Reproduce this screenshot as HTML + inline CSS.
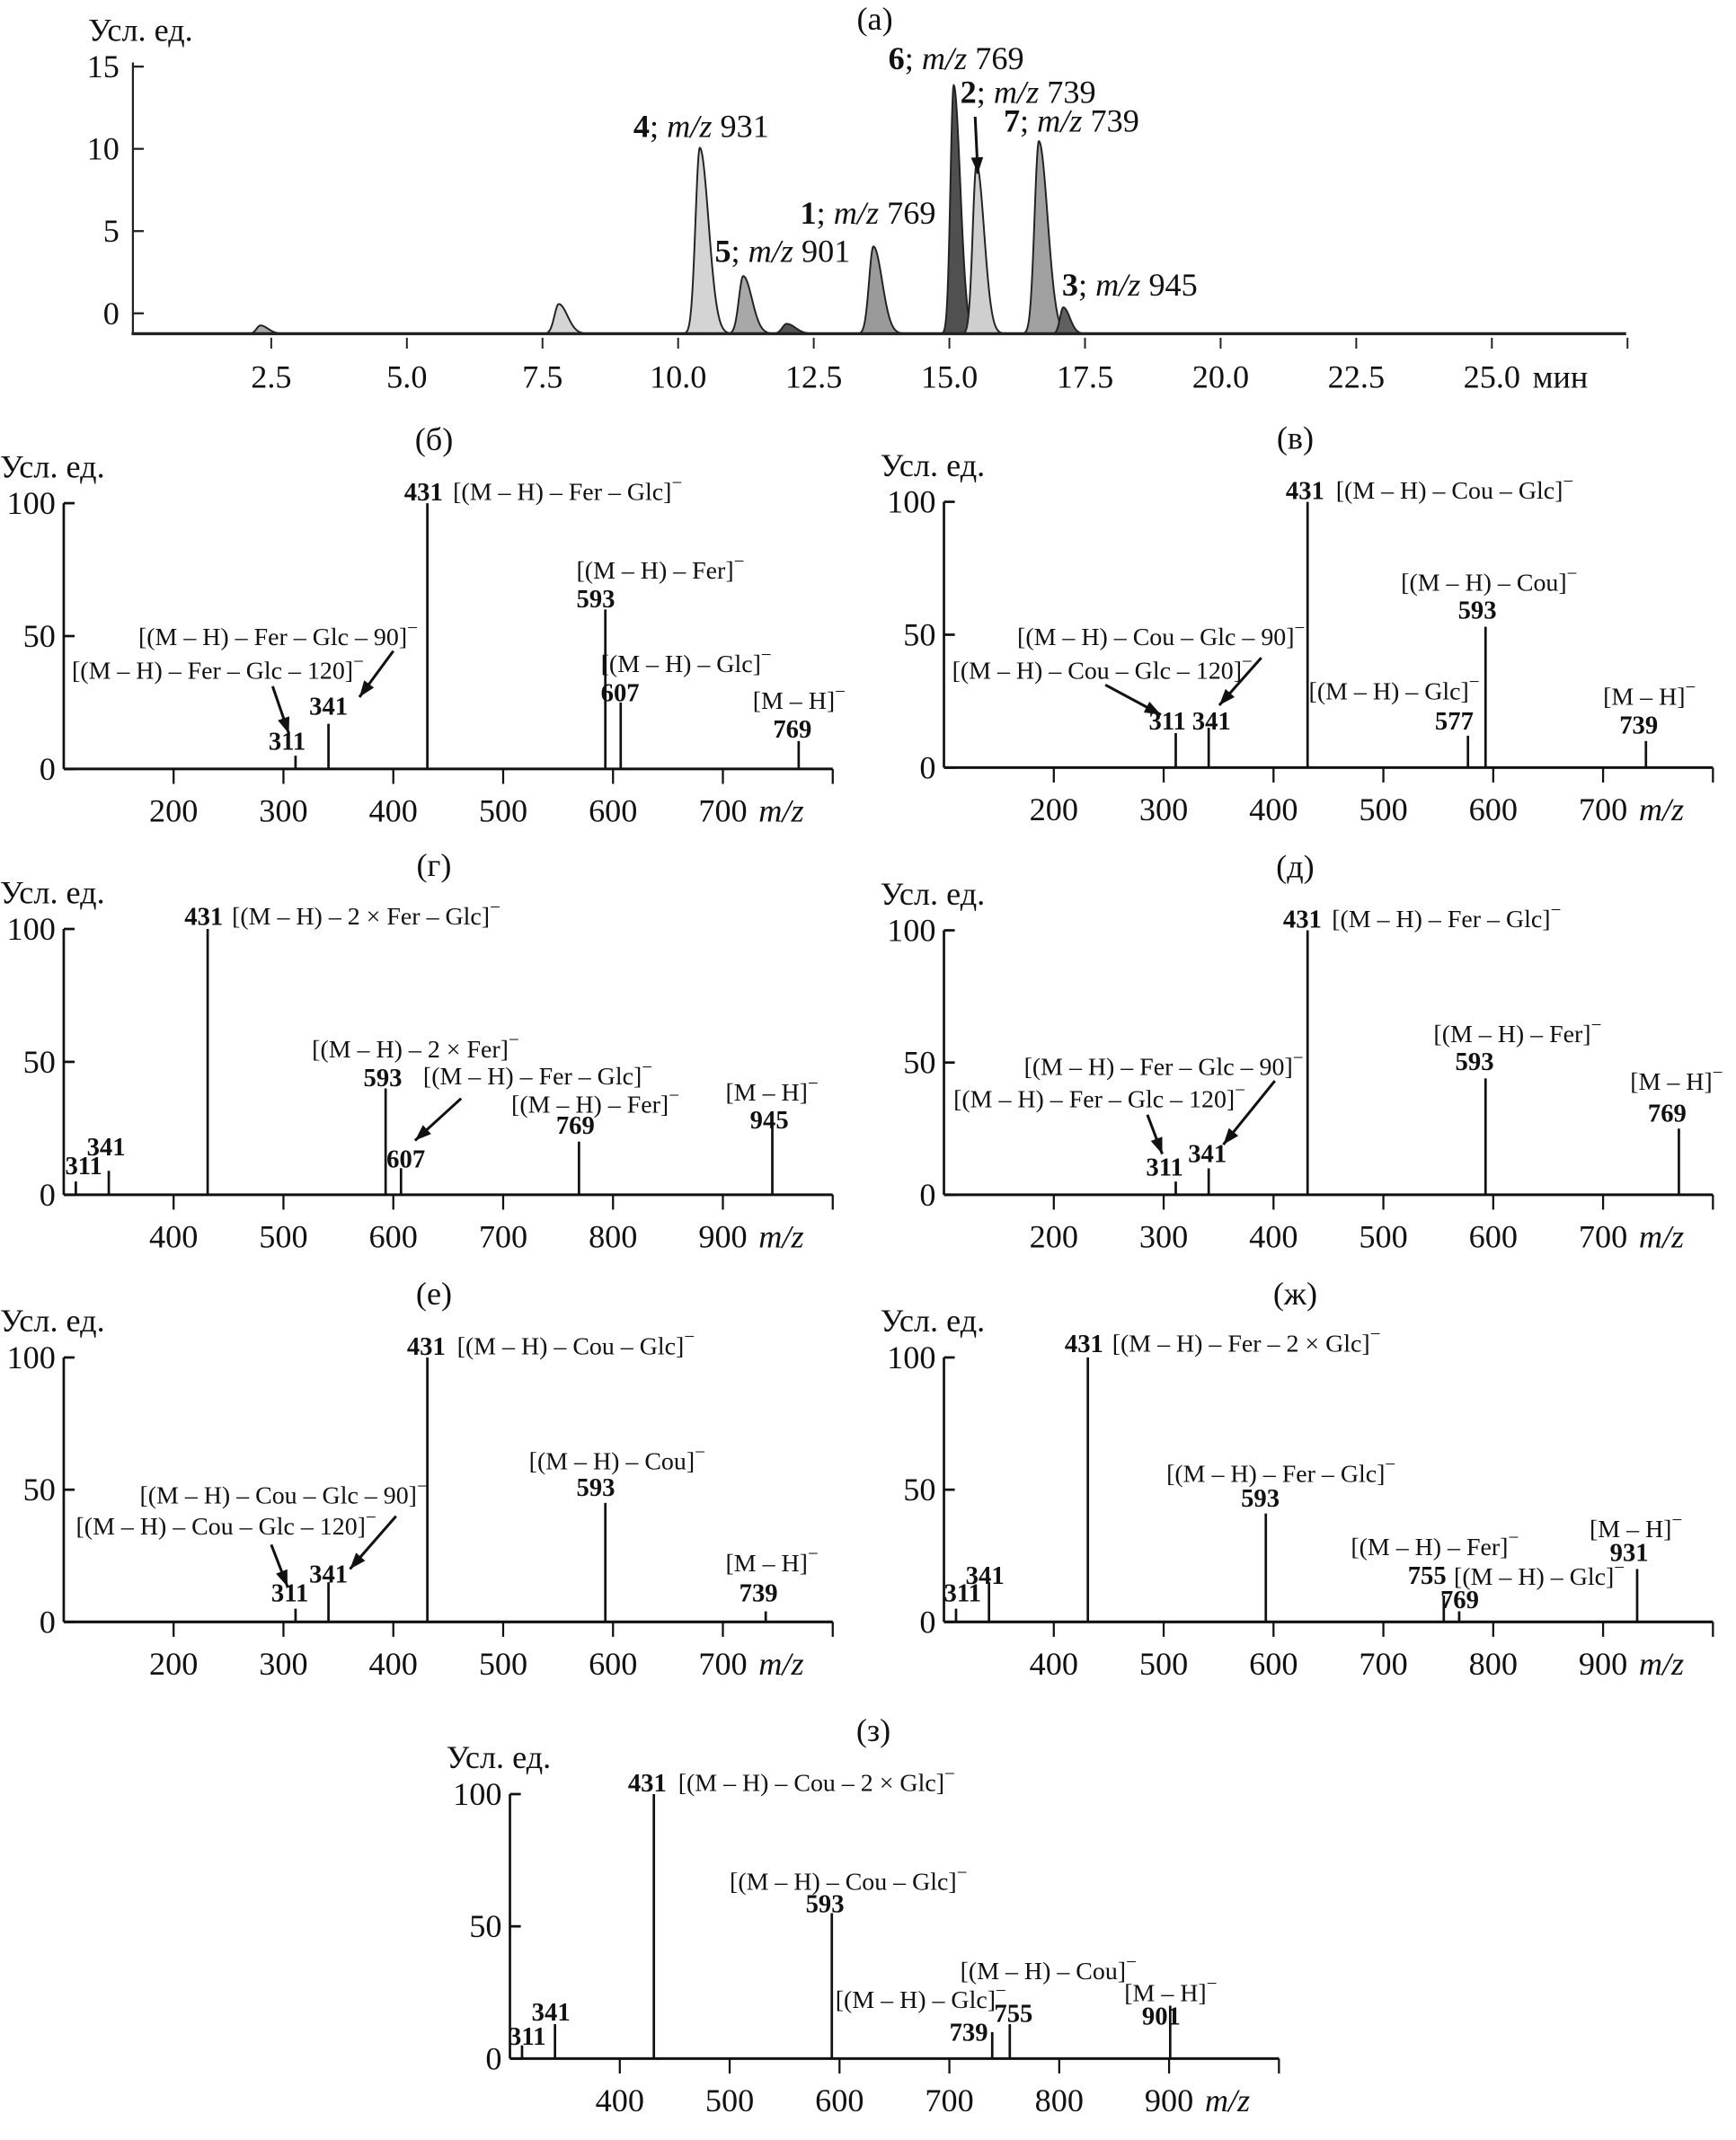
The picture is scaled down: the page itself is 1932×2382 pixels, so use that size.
<!DOCTYPE html>
<html><head><meta charset="utf-8">
<style>
html,body{margin:0;padding:0;background:#fff;}
svg{display:block;font-family:"Liberation Serif","DejaVu Serif",serif;}
</style></head>
<body>
<svg id="fig" width="1932" height="2382" viewBox="0 0 1280 1578" xmlns="http://www.w3.org/2000/svg">
<g id="root"></g>
</svg>
<script>
// ---------- Chromatogram (a) data ----------
const chromTimes   = [2.3, 7.8, 10.4, 11.2, 12.0, 13.6, 15.08, 15.5, 16.65, 17.1];
const chromHeights = [0.5, 1.8, 11.3, 3.5, 0.6, 5.3, 15.1, 10.3, 11.7, 1.6];
const chromWidths  = [0.07, 0.08, 0.08, 0.08, 0.08, 0.08, 0.06, 0.07, 0.08, 0.06];
const chromShades  = ["#a8a8a8","#d4d4d4","#d4d4d4","#a8a8a8","#555","#9a9a9a","#505050","#cfcfcf","#a0a0a0","#606060"];
const chromYTicks  = [15, 10, 5, 0];
const chromXTicks  = [2.5, 5.0, 7.5, 10.0, 12.5, 15.0, 17.5, 20.0, 22.5, 25.0];

// ---------- Spectra data ----------
const mzB = [311, 341, 431, 593, 607, 769];   const intB = [5, 17, 100, 60, 25, 10.5];
const mzV = [311, 341, 431, 577, 593, 739];   const intV = [13, 15, 100, 12, 53, 10];
const mzG = [311, 341, 431, 593, 607, 769, 945]; const intG = [5, 9, 100, 40, 10, 20, 25];
const mzD = [311, 341, 431, 593, 769];        const intD = [5, 10, 100, 44, 25];
const mzE = [311, 341, 431, 593, 739];        const intE = [5, 15, 100, 45, 4];
const mzZh = [311, 341, 431, 593, 755, 769, 931]; const intZh = [5, 15, 100, 41, 10, 4, 20];
const mzZ = [311, 341, 431, 593, 739, 755, 901];  const intZ = [5, 13, 100, 55, 10, 13, 20];
const ticksLow  = [200, 300, 400, 500, 600, 700];
const ticksHigh = [400, 500, 600, 700, 800, 900];
const yTicksSpec = [0, 50, 100];

const NS = "http://www.w3.org/2000/svg";
const root = document.getElementById("root");
function el(tag, attrs, parent, txt){
  const e = document.createElementNS(NS, tag);
  for (const k in attrs) e.setAttribute(k, attrs[k]);
  if (txt !== undefined) e.textContent = txt;
  (parent || root).appendChild(e);
  return e;
}
function grp(name){
  const g = document.createElementNS(NS, "g");
  
  
  root.appendChild(g);
  return g;
}
function label(g, x, y, str, size, opts){
  opts = opts || {};
  const t = el("text", {x:x, y:y, "font-size":size, "dominant-baseline":"central", "text-anchor":opts.anchor||"start", "font-weight":opts.bold?"bold":"normal", fill:"#111"}, g);
  
  
  if (opts.italic) t.setAttribute("font-style", "italic");
  if (str.endsWith("]⁻")) {
    t.appendChild(document.createTextNode(str.slice(0, -1)));
    const s = document.createElementNS(NS, "tspan");
    s.setAttribute("dy", -size*0.4); s.setAttribute("font-size", size*0.75);
    s.textContent = "−"; t.appendChild(s);
  } else t.textContent = str;
  return t;
}
function rich(g, x, y, num, mz, size, name){
  const t = el("text", {x:x, y:y, "font-size":size, "dominant-baseline":"central", fill:"#111"}, g);
  
  
  const a = document.createElementNS(NS,"tspan"); a.setAttribute("font-weight","bold"); a.textContent = num; t.appendChild(a);
  t.appendChild(document.createTextNode("; "));
  const b = document.createElementNS(NS,"tspan"); b.setAttribute("font-style","italic"); b.textContent = "m/z"; t.appendChild(b);
  t.appendChild(document.createTextNode(" " + mz));
}
function arrow(g, x1, y1, x2, y2){
  el("line", {x1:x1, y1:y1, x2:x2, y2:y2, stroke:"#111", "stroke-width":2}, g);
  const ang = Math.atan2(y2-y1, x2-x1), L = 12, W = 4.5;
  const bx = x2 - L*Math.cos(ang), by = y2 - L*Math.sin(ang);
  const p = [[x2,y2],[bx - W*Math.sin(ang), by + W*Math.cos(ang)],[bx + W*Math.sin(ang), by - W*Math.cos(ang)]];
  const a = el("polygon", {points:p.map(q=>q.join(",")).join(" "), fill:"#111"}, g);
  
  
}

// ---------- Chromatogram ----------
(function(){
  const g = grp("chromatogram-a");
  const X = t => 100 + t*40;
  const Y = v => 231 - v*12.13;
  const base = 246;
  label(g, 645, 14, "(а)", 24, {anchor:"middle", name:"panel-title"});
  label(g, 65, 22, "Усл. ед.", 24, {name:"y-axis-title"});
  chromTimes.forEach((t0, i) => {
    const h = chromHeights[i], w = chromWidths[i];
    let pts = [];
    for (let t = t0 - 5*w; t <= t0 + 10*w; t += w/12) {
      const s = t < t0 ? w : w*2.0;
      const v = h*Math.exp(-0.5*((t-t0)/s)**2);
      pts.push([X(t).toFixed(2), (base - v*12.13).toFixed(2)]);
    }
    const d = "M" + X(t0-5*w) + "," + base + " L" + pts.map(p=>p.join(",")).join(" L") + " L" + X(t0+10*w) + "," + base + " Z";
    const p = el("path", {d:d, fill:chromShades[i], stroke:"#222", "stroke-width":1.3}, g);
    
    
  });
  el("line", {x1:97, y1:base, x2:1199, y2:base, stroke:"#222", "stroke-width":2.2}, g);
  el("line", {x1:98, y1:46, x2:98, y2:base, stroke:"#222", "stroke-width":1.5}, g);
  chromYTicks.forEach(v => {
    el("line", {x1:98, y1:Y(v), x2:106, y2:Y(v), stroke:"#222", "stroke-width":1.5}, g);
    label(g, 88, Y(v), String(v), 24, {anchor:"end", name:"y-tick-label"});
  });
  chromXTicks.concat([27.5]).forEach(v => {
    el("line", {x1:X(v), y1:base+3, x2:X(v), y2:base+11, stroke:"#222", "stroke-width":1.3}, g);
  });
  chromXTicks.forEach(v => label(g, X(v), 278, v.toFixed(1), 24, {anchor:"middle", name:"x-tick-label"}));
  label(g, 1130, 278, "мин", 24, {name:"x-axis-title"});
  rich(g, 467, 93, "4", "931", 24, "peak-label-4");
  rich(g, 527, 185, "5", "901", 24, "peak-label-5");
  rich(g, 590, 157, "1", "769", 24, "peak-label-1");
  rich(g, 655, 43, "6", "769", 24, "peak-label-6");
  rich(g, 708, 68, "2", "739", 24, "peak-label-2");
  rich(g, 740, 89, "7", "739", 24, "peak-label-7");
  rich(g, 783, 210, "3", "945", 24, "peak-label-3");
  arrow(g, 719, 86, 721, 128);
})();

// ---------- Spectrum helper ----------
function spectrum(cfg){
  const g = grp(cfg.name);
  const X = mz => cfg.x0 + (mz - cfg.mzMin)*0.81;
  const Y = v => cfg.yb - v*(cfg.yb - cfg.yt)/100;
  label(g, cfg.titleX, cfg.yt - 47, cfg.title, 24, {anchor:"middle", name:"panel-title"});
  label(g, cfg.x0 - 47, cfg.yt - 27, "Усл. ед.", 24, {name:"y-axis-title"});
  el("line", {x1:cfg.x0, y1:cfg.yt, x2:cfg.x0, y2:cfg.yb, stroke:"#111", "stroke-width":1.8}, g);
  el("line", {x1:cfg.x0, y1:cfg.yb, x2:X(cfg.mzMin+700), y2:cfg.yb, stroke:"#111", "stroke-width":2}, g);
  yTicksSpec.forEach(v => {
    el("line", {x1:cfg.x0, y1:Y(v), x2:cfg.x0+8, y2:Y(v), stroke:"#111", "stroke-width":1.8}, g);
    label(g, cfg.x0 - 6, Y(v), String(v), 24, {anchor:"end", name:"y-tick-label"});
  });
  cfg.ticks.concat([cfg.ticks[cfg.ticks.length-1]+100]).forEach(v => {
    el("line", {x1:X(v), y1:cfg.yb, x2:X(v), y2:cfg.yb+11, stroke:"#111", "stroke-width":1.5}, g);
  });
  cfg.ticks.forEach(v => label(g, X(v), cfg.yb + 31, String(v), 24, {anchor:"middle", name:"x-tick-label"}));
  label(g, X(cfg.mzMin+700) - 38, cfg.yb + 31, "m/z", 24, {anchor:"middle", italic:true, name:"x-axis-title"});
  cfg.mz.forEach((m, i) => {
    const l = el("line", {x1:X(m), y1:cfg.yb, x2:X(m), y2:Y(cfg.intens[i]), stroke:"#111", "stroke-width":1.8}, g);
    
    
  });
  cfg.ann.forEach(a => label(g, a[0], a[1], a[2], a[3] ? 19 : 18.5, {bold:!!a[3], name:a[3] ? "peak-mz-label" : "ion-label"}));
  (cfg.arrows||[]).forEach(a => arrow(g, a[0], a[1], a[2], a[3]));
}

spectrum({name:"spectrum-b", title:"(б)", titleX:320, x0:47, mzMin:100, yt:371, yb:567, ticks:ticksLow, mz:mzB, intens:intB,
  ann:[[298,363,"431",1],[334,363,"[(M – H) – Fer – Glc]⁻"],[425,421,"[(M – H) – Fer]⁻"],[425,442,"593",1],
       [443,490,"[(M – H) – Glc]⁻"],[443,511,"607",1],[555,517,"[M – H]⁻"],[570,538,"769",1],
       [102,470,"[(M – H) – Fer – Glc – 90]⁻"],[53,495,"[(M – H) – Fer – Glc – 120]⁻"],[228,521,"341",1],[198,547,"311",1]],
  arrows:[[290,480,265,514],[201,506,213,541]]});

spectrum({name:"spectrum-v", title:"(в)", titleX:955, x0:696, mzMin:100, yt:370, yb:566, ticks:ticksLow, mz:mzV, intens:intV,
  ann:[[948,362,"431",1],[985,362,"[(M – H) – Cou – Glc]⁻"],[1033,430,"[(M – H) – Cou]⁻"],[1075,450,"593",1],
       [750,470,"[(M – H) – Cou – Glc – 90]⁻"],[702,495,"[(M – H) – Cou – Glc – 120]⁻"],[965,510,"[(M – H) – Glc]⁻"],[1058,532,"577",1],
       [1182,514,"[M – H]⁻"],[1194,535,"739",1],[847,532,"311",1],[879,532,"341",1]],
  arrows:[[815,505,856,527],[930,485,899,520]]});

spectrum({name:"spectrum-g", title:"(г)", titleX:320, x0:47, mzMin:300, yt:685, yb:881, ticks:ticksHigh, mz:mzG, intens:intG,
  ann:[[136,676,"431",1],[171,676,"[(M – H) – 2 × Fer – Glc]⁻"],[230,774,"[(M – H) – 2 × Fer]⁻"],[268,795,"593",1],
       [312,794,"[(M – H) – Fer – Glc]⁻"],[377,815,"[(M – H) – Fer]⁻"],[410,830,"769",1],
       [535,806,"[M – H]⁻"],[553,826,"945",1],[285,855,"607",1],[48,860,"311",1],[64,846,"341",1]],
  arrows:[[340,810,306,841]]});

spectrum({name:"spectrum-d", title:"(д)", titleX:955, x0:696, mzMin:100, yt:686, yb:881, ticks:ticksLow, mz:mzD, intens:intD,
  ann:[[946,678,"431",1],[982,678,"[(M – H) – Fer – Glc]⁻"],[1057,763,"[(M – H) – Fer]⁻"],[1073,783,"593",1],
       [1202,798,"[M – H]⁻"],[1215,821,"769",1],[755,787,"[(M – H) – Fer – Glc – 90]⁻"],[703,811,"[(M – H) – Fer – Glc – 120]⁻"],
       [845,861,"311",1],[876,851,"341",1]],
  arrows:[[846,822,857,851],[940,797,902,844]]});

spectrum({name:"spectrum-e", title:"(е)", titleX:320, x0:47, mzMin:100, yt:1001, yb:1196, ticks:ticksLow, mz:mzE, intens:intE,
  ann:[[300,993,"431",1],[337,993,"[(M – H) – Cou – Glc]⁻"],[390,1078,"[(M – H) – Cou]⁻"],[425,1097,"593",1],
       [535,1153,"[M – H]⁻"],[545,1175,"739",1],[103,1103,"[(M – H) – Cou – Glc – 90]⁻"],[56,1126,"[(M – H) – Cou – Glc – 120]⁻"],
       [200,1175,"311",1],[228,1161,"341",1]],
  arrows:[[200,1139,212,1170],[292,1118,258,1157]]});

spectrum({name:"spectrum-zh", title:"(ж)", titleX:955, x0:696, mzMin:300, yt:1001, yb:1196, ticks:ticksHigh, mz:mzZh, intens:intZh,
  ann:[[785,991,"431",1],[820,991,"[(M – H) – Fer – 2 × Glc]⁻"],[860,1087,"[(M – H) – Fer – Glc]⁻"],[915,1105,"593",1],
       [996,1141,"[(M – H) – Fer]⁻"],[1038,1162,"755",1],[1072,1163,"[(M – H) – Glc]⁻"],[1062,1180,"769",1],
       [1172,1128,"[M – H]⁻"],[1187,1145,"931",1],[696,1175,"311",1],[712,1162,"341",1]]});

spectrum({name:"spectrum-z", title:"(з)", titleX:644, x0:376, mzMin:300, yt:1323, yb:1518, ticks:ticksHigh, mz:mzZ, intens:intZ,
  ann:[[463,1315,"431",1],[500,1315,"[(M – H) – Cou – 2 × Glc]⁻"],[538,1388,"[(M – H) – Cou – Glc]⁻"],[594,1404,"593",1],
       [708,1454,"[(M – H) – Cou]⁻"],[733,1485,"755",1],[616,1475,"[(M – H) – Glc]⁻"],[700,1499,"739",1],
       [829,1470,"[M – H]⁻"],[842,1487,"901",1],[375,1502,"311",1],[392,1484,"341",1]]});
</script>
</body></html>
